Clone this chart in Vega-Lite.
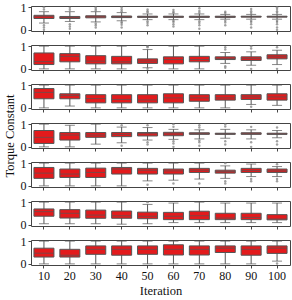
{
"$schema":"https://vega.github.io/schema/vega-lite/v6.json",
"padding":{"left":2,"right":3,"top":0,"bottom":6},
"bounds":"flush",
"background":"white",
"config":{
 "view":{"stroke":"#444","strokeWidth":1},
 "concat":{"spacing":14},
 "axis":{"domain":false,"grid":false,"tickSize":3,"tickColor":"#444","labelPadding":2,"labelFont":"Liberation Serif","labelFontSize":12,"labelColor":"#111","titleFont":"Liberation Serif","titleFontSize":12.5,"titleFontWeight":"normal","titleColor":"#111"}
},
"datasets":{
"bx":[
{"p":1,"it":10,"lo":0.3,"q1":0.5,"md":0.58,"q3":0.64,"hi":0.8},
{"p":1,"it":20,"lo":0.37,"q1":0.5,"md":0.55,"q3":0.59,"hi":0.8},
{"p":1,"it":30,"lo":0.35,"q1":0.53,"md":0.58,"q3":0.62,"hi":0.8},
{"p":1,"it":40,"lo":0.4,"q1":0.54,"md":0.58,"q3":0.61,"hi":0.76},
{"p":1,"it":50,"lo":0.45,"q1":0.55,"md":0.58,"q3":0.6,"hi":0.7},
{"p":1,"it":60,"lo":0.45,"q1":0.55,"md":0.58,"q3":0.6,"hi":0.7},
{"p":1,"it":70,"lo":0.45,"q1":0.55,"md":0.58,"q3":0.6,"hi":0.7},
{"p":1,"it":80,"lo":0.47,"q1":0.55,"md":0.58,"q3":0.6,"hi":0.68},
{"p":1,"it":90,"lo":0.47,"q1":0.56,"md":0.58,"q3":0.6,"hi":0.68},
{"p":1,"it":100,"lo":0.47,"q1":0.56,"md":0.58,"q3":0.6,"hi":0.68},
{"p":2,"it":10,"lo":0,"q1":0.19,"md":0.32,"q3":0.7,"hi":1},
{"p":2,"it":20,"lo":0,"q1":0.31,"md":0.55,"q3":0.67,"hi":1},
{"p":2,"it":30,"lo":0,"q1":0.22,"md":0.34,"q3":0.58,"hi":1},
{"p":2,"it":40,"lo":0,"q1":0.22,"md":0.31,"q3":0.55,"hi":1},
{"p":2,"it":50,"lo":0.05,"q1":0.24,"md":0.34,"q3":0.44,"hi":0.85},
{"p":2,"it":60,"lo":0,"q1":0.22,"md":0.41,"q3":0.53,"hi":1},
{"p":2,"it":70,"lo":0,"q1":0.31,"md":0.41,"q3":0.55,"hi":1},
{"p":2,"it":80,"lo":0.24,"q1":0.41,"md":0.45,"q3":0.53,"hi":0.72},
{"p":2,"it":90,"lo":0.16,"q1":0.37,"md":0.45,"q3":0.53,"hi":0.75},
{"p":2,"it":100,"lo":0.19,"q1":0.44,"md":0.53,"q3":0.62,"hi":0.82},
{"p":3,"it":10,"lo":0,"q1":0.4,"md":0.68,"q3":0.85,"hi":1},
{"p":3,"it":20,"lo":0.08,"q1":0.4,"md":0.54,"q3":0.62,"hi":1},
{"p":3,"it":30,"lo":0,"q1":0.22,"md":0.41,"q3":0.58,"hi":1},
{"p":3,"it":40,"lo":0,"q1":0.22,"md":0.37,"q3":0.58,"hi":1},
{"p":3,"it":50,"lo":0,"q1":0.22,"md":0.35,"q3":0.58,"hi":1},
{"p":3,"it":60,"lo":0,"q1":0.22,"md":0.44,"q3":0.62,"hi":1},
{"p":3,"it":70,"lo":0,"q1":0.29,"md":0.44,"q3":0.58,"hi":1},
{"p":3,"it":80,"lo":0,"q1":0.34,"md":0.44,"q3":0.58,"hi":1},
{"p":3,"it":90,"lo":0.15,"q1":0.37,"md":0.48,"q3":0.58,"hi":1},
{"p":3,"it":100,"lo":0.11,"q1":0.34,"md":0.48,"q3":0.62,"hi":1},
{"p":4,"it":10,"lo":0,"q1":0.15,"md":0.42,"q3":0.72,"hi":1},
{"p":4,"it":20,"lo":0,"q1":0.3,"md":0.52,"q3":0.63,"hi":0.95},
{"p":4,"it":30,"lo":0.12,"q1":0.42,"md":0.52,"q3":0.63,"hi":1},
{"p":4,"it":40,"lo":0.18,"q1":0.45,"md":0.55,"q3":0.63,"hi":0.87},
{"p":4,"it":50,"lo":0.3,"q1":0.48,"md":0.58,"q3":0.63,"hi":0.85},
{"p":4,"it":60,"lo":0.33,"q1":0.49,"md":0.57,"q3":0.64,"hi":0.77},
{"p":4,"it":70,"lo":0.35,"q1":0.55,"md":0.59,"q3":0.62,"hi":0.75},
{"p":4,"it":80,"lo":0.38,"q1":0.55,"md":0.58,"q3":0.6,"hi":0.77},
{"p":4,"it":90,"lo":0.35,"q1":0.55,"md":0.59,"q3":0.62,"hi":0.75},
{"p":4,"it":100,"lo":0.4,"q1":0.55,"md":0.57,"q3":0.6,"hi":0.72},
{"p":5,"it":10,"lo":0,"q1":0.33,"md":0.56,"q3":0.81,"hi":1},
{"p":5,"it":20,"lo":0,"q1":0.37,"md":0.52,"q3":0.74,"hi":1},
{"p":5,"it":30,"lo":0,"q1":0.37,"md":0.59,"q3":0.78,"hi":1},
{"p":5,"it":40,"lo":0,"q1":0.52,"md":0.74,"q3":0.81,"hi":1},
{"p":5,"it":50,"lo":0.22,"q1":0.52,"md":0.69,"q3":0.77,"hi":1},
{"p":5,"it":60,"lo":0.25,"q1":0.52,"md":0.66,"q3":0.74,"hi":1},
{"p":5,"it":70,"lo":0.3,"q1":0.59,"md":0.69,"q3":0.77,"hi":1},
{"p":5,"it":80,"lo":0.33,"q1":0.56,"md":0.63,"q3":0.69,"hi":0.88},
{"p":5,"it":90,"lo":0.41,"q1":0.59,"md":0.68,"q3":0.77,"hi":0.96},
{"p":5,"it":100,"lo":0.41,"q1":0.59,"md":0.66,"q3":0.74,"hi":0.85},
{"p":6,"it":10,"lo":0.05,"q1":0.38,"md":0.58,"q3":0.7,"hi":1},
{"p":6,"it":20,"lo":0.05,"q1":0.3,"md":0.51,"q3":0.67,"hi":1},
{"p":6,"it":30,"lo":0.05,"q1":0.29,"md":0.43,"q3":0.65,"hi":1},
{"p":6,"it":40,"lo":0.03,"q1":0.29,"md":0.4,"q3":0.61,"hi":1},
{"p":6,"it":50,"lo":0.05,"q1":0.27,"md":0.38,"q3":0.56,"hi":0.9},
{"p":6,"it":60,"lo":0.1,"q1":0.23,"md":0.38,"q3":0.55,"hi":0.96},
{"p":6,"it":70,"lo":0.1,"q1":0.23,"md":0.4,"q3":0.6,"hi":1},
{"p":6,"it":80,"lo":0.1,"q1":0.23,"md":0.3,"q3":0.51,"hi":0.96},
{"p":6,"it":90,"lo":0.1,"q1":0.23,"md":0.33,"q3":0.51,"hi":0.96},
{"p":6,"it":100,"lo":0.1,"q1":0.22,"md":0.26,"q3":0.45,"hi":0.96},
{"p":7,"it":10,"lo":0,"q1":0.3,"md":0.47,"q3":0.69,"hi":1},
{"p":7,"it":20,"lo":0,"q1":0.3,"md":0.38,"q3":0.64,"hi":1},
{"p":7,"it":30,"lo":0,"q1":0.42,"md":0.64,"q3":0.79,"hi":1},
{"p":7,"it":40,"lo":0,"q1":0.38,"md":0.64,"q3":0.79,"hi":1},
{"p":7,"it":50,"lo":0,"q1":0.42,"md":0.64,"q3":0.79,"hi":1},
{"p":7,"it":60,"lo":0,"q1":0.39,"md":0.64,"q3":0.84,"hi":1},
{"p":7,"it":70,"lo":0,"q1":0.39,"md":0.64,"q3":0.79,"hi":1},
{"p":7,"it":80,"lo":0,"q1":0.5,"md":0.69,"q3":0.79,"hi":1},
{"p":7,"it":90,"lo":0,"q1":0.38,"md":0.64,"q3":0.79,"hi":1},
{"p":7,"it":100,"lo":0.12,"q1":0.46,"md":0.69,"q3":0.79,"hi":1}
],
"fl":[
{"p":1,"it":10,"v":0},{"p":1,"it":10,"v":0.1},{"p":1,"it":10,"v":0.2},{"p":1,"it":10,"v":0.9},{"p":1,"it":10,"v":1},
{"p":1,"it":20,"v":0.05},{"p":1,"it":20,"v":0.15},{"p":1,"it":20,"v":0.25},{"p":1,"it":20,"v":0.88},{"p":1,"it":20,"v":0.97},
{"p":1,"it":30,"v":0.1},{"p":1,"it":30,"v":0.2},{"p":1,"it":30,"v":0.28},{"p":1,"it":30,"v":0.85},{"p":1,"it":30,"v":0.92},{"p":1,"it":30,"v":1},
{"p":1,"it":40,"v":0.1},{"p":1,"it":40,"v":0.22},{"p":1,"it":40,"v":0.3},{"p":1,"it":40,"v":0.35},{"p":1,"it":40,"v":0.82},{"p":1,"it":40,"v":0.9},{"p":1,"it":40,"v":0.98},
{"p":1,"it":50,"v":0.2},{"p":1,"it":50,"v":0.3},{"p":1,"it":50,"v":0.38},{"p":1,"it":50,"v":0.76},{"p":1,"it":50,"v":0.82},{"p":1,"it":50,"v":0.9},
{"p":1,"it":60,"v":0.15},{"p":1,"it":60,"v":0.25},{"p":1,"it":60,"v":0.35},{"p":1,"it":60,"v":0.4},{"p":1,"it":60,"v":0.75},{"p":1,"it":60,"v":0.8},{"p":1,"it":60,"v":0.88},
{"p":1,"it":70,"v":0.05},{"p":1,"it":70,"v":0.2},{"p":1,"it":70,"v":0.3},{"p":1,"it":70,"v":0.38},{"p":1,"it":70,"v":0.75},{"p":1,"it":70,"v":0.83},{"p":1,"it":70,"v":0.95},
{"p":1,"it":80,"v":0.2},{"p":1,"it":80,"v":0.32},{"p":1,"it":80,"v":0.4},{"p":1,"it":80,"v":0.74},{"p":1,"it":80,"v":0.8},
{"p":1,"it":90,"v":0.1},{"p":1,"it":90,"v":0.25},{"p":1,"it":90,"v":0.35},{"p":1,"it":90,"v":0.4},{"p":1,"it":90,"v":0.74},{"p":1,"it":90,"v":0.82},{"p":1,"it":90,"v":0.92},
{"p":1,"it":100,"v":0},{"p":1,"it":100,"v":0.1},{"p":1,"it":100,"v":0.25},{"p":1,"it":100,"v":0.35},{"p":1,"it":100,"v":0.4},{"p":1,"it":100,"v":0.75},{"p":1,"it":100,"v":0.82},{"p":1,"it":100,"v":0.92},{"p":1,"it":100,"v":1},
{"p":2,"it":50,"v":0.95},{"p":2,"it":50,"v":1},{"p":2,"it":50,"v":0},
{"p":2,"it":80,"v":0.85},{"p":2,"it":80,"v":0.95},{"p":2,"it":80,"v":0.05},{"p":2,"it":80,"v":0.12},
{"p":2,"it":90,"v":0},{"p":2,"it":90,"v":0.9},{"p":2,"it":90,"v":1},
{"p":2,"it":100,"v":0},{"p":2,"it":100,"v":0.95},
{"p":3,"it":90,"v":0.05},
{"p":4,"it":40,"v":0.05},{"p":4,"it":40,"v":0.95},
{"p":4,"it":50,"v":0.1},{"p":4,"it":50,"v":0.2},{"p":4,"it":50,"v":0.95},
{"p":4,"it":60,"v":0},{"p":4,"it":60,"v":0.15},{"p":4,"it":60,"v":0.25},{"p":4,"it":60,"v":0.88},{"p":4,"it":60,"v":1},
{"p":4,"it":70,"v":0.05},{"p":4,"it":70,"v":0.2},{"p":4,"it":70,"v":0.28},{"p":4,"it":70,"v":0.85},{"p":4,"it":70,"v":0.95},
{"p":4,"it":80,"v":0.1},{"p":4,"it":80,"v":0.25},{"p":4,"it":80,"v":0.9},{"p":4,"it":80,"v":1},
{"p":4,"it":90,"v":0},{"p":4,"it":90,"v":0.2},{"p":4,"it":90,"v":0.88},
{"p":4,"it":100,"v":0.1},{"p":4,"it":100,"v":0.25},{"p":4,"it":100,"v":0.85},
{"p":5,"it":50,"v":0.05},{"p":5,"it":60,"v":0.1},{"p":5,"it":70,"v":0.1},
{"p":5,"it":80,"v":0.1},{"p":5,"it":80,"v":0.2},{"p":5,"it":80,"v":1},
{"p":5,"it":90,"v":0.2},{"p":5,"it":90,"v":0.3},
{"p":5,"it":100,"v":0.2},{"p":5,"it":100,"v":0.3},{"p":5,"it":100,"v":0.95},
{"p":6,"it":50,"v":1},
{"p":7,"it":100,"v":0.02}
]
},
"vconcat":[
{"width":259,"height":25,"transform":[{"filter":"datum.p==1"}],"data":{"name":"bx"},
 "encoding":{"x":{"field":"it","type":"ordinal","scale":{"paddingInner":0,"paddingOuter":0},"axis":{"labels":false,"title":null}}},
 "layer":[
  {"mark":{"type":"rule","color":"#555","strokeWidth":1},"encoding":{"y":{"field":"lo","type":"quantitative","scale":{"domain":[-0.05,1.05],"nice":false,"zero":false},"axis":{"values":[0,1],"title":null}},"y2":{"field":"hi"}}},
  {"mark":{"type":"tick","color":"#555","size":10,"thickness":1},"encoding":{"y":{"field":"lo","type":"quantitative"}}},
  {"mark":{"type":"tick","color":"#555","size":10,"thickness":1},"encoding":{"y":{"field":"hi","type":"quantitative"}}},
  {"mark":{"type":"bar","color":"#e31a1c","stroke":"#555","strokeWidth":1,"width":20},"encoding":{"y":{"field":"q1","type":"quantitative"},"y2":{"field":"q3"}}},
  {"mark":{"type":"tick","color":"#555","size":20,"thickness":1},"encoding":{"y":{"field":"md","type":"quantitative"}}},
  {"data":{"name":"fl"},"transform":[{"filter":"datum.p==1"}],"mark":{"type":"circle","color":"#777","size":6,"opacity":0.7},"encoding":{"y":{"field":"v","type":"quantitative"}}}
 ]},
{"width":259,"height":25,"transform":[{"filter":"datum.p==2"}],"data":{"name":"bx"},
 "encoding":{"x":{"field":"it","type":"ordinal","scale":{"paddingInner":0,"paddingOuter":0},"axis":{"labels":false,"title":null}}},
 "layer":[
  {"mark":{"type":"rule","color":"#555","strokeWidth":1},"encoding":{"y":{"field":"lo","type":"quantitative","scale":{"domain":[-0.05,1.05],"nice":false,"zero":false},"axis":{"values":[0,1],"title":null}},"y2":{"field":"hi"}}},
  {"mark":{"type":"tick","color":"#555","size":10,"thickness":1},"encoding":{"y":{"field":"lo","type":"quantitative"}}},
  {"mark":{"type":"tick","color":"#555","size":10,"thickness":1},"encoding":{"y":{"field":"hi","type":"quantitative"}}},
  {"mark":{"type":"bar","color":"#e31a1c","stroke":"#555","strokeWidth":1,"width":20},"encoding":{"y":{"field":"q1","type":"quantitative"},"y2":{"field":"q3"}}},
  {"mark":{"type":"tick","color":"#555","size":20,"thickness":1},"encoding":{"y":{"field":"md","type":"quantitative"}}},
  {"data":{"name":"fl"},"transform":[{"filter":"datum.p==2"}],"mark":{"type":"circle","color":"#777","size":6,"opacity":0.7},"encoding":{"y":{"field":"v","type":"quantitative"}}}
 ]},
{"width":259,"height":25,"transform":[{"filter":"datum.p==3"}],"data":{"name":"bx"},
 "encoding":{"x":{"field":"it","type":"ordinal","scale":{"paddingInner":0,"paddingOuter":0},"axis":{"labels":false,"title":null}}},
 "layer":[
  {"mark":{"type":"rule","color":"#555","strokeWidth":1},"encoding":{"y":{"field":"lo","type":"quantitative","scale":{"domain":[-0.05,1.05],"nice":false,"zero":false},"axis":{"values":[0,1],"title":null}},"y2":{"field":"hi"}}},
  {"mark":{"type":"tick","color":"#555","size":10,"thickness":1},"encoding":{"y":{"field":"lo","type":"quantitative"}}},
  {"mark":{"type":"tick","color":"#555","size":10,"thickness":1},"encoding":{"y":{"field":"hi","type":"quantitative"}}},
  {"mark":{"type":"bar","color":"#e31a1c","stroke":"#555","strokeWidth":1,"width":20},"encoding":{"y":{"field":"q1","type":"quantitative"},"y2":{"field":"q3"}}},
  {"mark":{"type":"tick","color":"#555","size":20,"thickness":1},"encoding":{"y":{"field":"md","type":"quantitative"}}},
  {"data":{"name":"fl"},"transform":[{"filter":"datum.p==3"}],"mark":{"type":"circle","color":"#777","size":6,"opacity":0.7},"encoding":{"y":{"field":"v","type":"quantitative"}}}
 ]},
{"width":259,"height":25,"transform":[{"filter":"datum.p==4"}],"data":{"name":"bx"},
 "encoding":{"x":{"field":"it","type":"ordinal","scale":{"paddingInner":0,"paddingOuter":0},"axis":{"labels":false,"title":null}}},
 "layer":[
  {"mark":{"type":"rule","color":"#555","strokeWidth":1},"encoding":{"y":{"field":"lo","type":"quantitative","scale":{"domain":[-0.05,1.05],"nice":false,"zero":false},"axis":{"values":[0,1],"title":"Torque Constant","titlePadding":4}},"y2":{"field":"hi"}}},
  {"mark":{"type":"tick","color":"#555","size":10,"thickness":1},"encoding":{"y":{"field":"lo","type":"quantitative"}}},
  {"mark":{"type":"tick","color":"#555","size":10,"thickness":1},"encoding":{"y":{"field":"hi","type":"quantitative"}}},
  {"mark":{"type":"bar","color":"#e31a1c","stroke":"#555","strokeWidth":1,"width":20},"encoding":{"y":{"field":"q1","type":"quantitative"},"y2":{"field":"q3"}}},
  {"mark":{"type":"tick","color":"#555","size":20,"thickness":1},"encoding":{"y":{"field":"md","type":"quantitative"}}},
  {"data":{"name":"fl"},"transform":[{"filter":"datum.p==4"}],"mark":{"type":"circle","color":"#777","size":6,"opacity":0.7},"encoding":{"y":{"field":"v","type":"quantitative"}}}
 ]},
{"width":259,"height":25,"transform":[{"filter":"datum.p==5"}],"data":{"name":"bx"},
 "encoding":{"x":{"field":"it","type":"ordinal","scale":{"paddingInner":0,"paddingOuter":0},"axis":{"labels":false,"title":null}}},
 "layer":[
  {"mark":{"type":"rule","color":"#555","strokeWidth":1},"encoding":{"y":{"field":"lo","type":"quantitative","scale":{"domain":[-0.05,1.05],"nice":false,"zero":false},"axis":{"values":[0,1],"title":null}},"y2":{"field":"hi"}}},
  {"mark":{"type":"tick","color":"#555","size":10,"thickness":1},"encoding":{"y":{"field":"lo","type":"quantitative"}}},
  {"mark":{"type":"tick","color":"#555","size":10,"thickness":1},"encoding":{"y":{"field":"hi","type":"quantitative"}}},
  {"mark":{"type":"bar","color":"#e31a1c","stroke":"#555","strokeWidth":1,"width":20},"encoding":{"y":{"field":"q1","type":"quantitative"},"y2":{"field":"q3"}}},
  {"mark":{"type":"tick","color":"#555","size":20,"thickness":1},"encoding":{"y":{"field":"md","type":"quantitative"}}},
  {"data":{"name":"fl"},"transform":[{"filter":"datum.p==5"}],"mark":{"type":"circle","color":"#777","size":6,"opacity":0.7},"encoding":{"y":{"field":"v","type":"quantitative"}}}
 ]},
{"width":259,"height":25,"transform":[{"filter":"datum.p==6"}],"data":{"name":"bx"},
 "encoding":{"x":{"field":"it","type":"ordinal","scale":{"paddingInner":0,"paddingOuter":0},"axis":{"labels":false,"title":null}}},
 "layer":[
  {"mark":{"type":"rule","color":"#555","strokeWidth":1},"encoding":{"y":{"field":"lo","type":"quantitative","scale":{"domain":[-0.05,1.05],"nice":false,"zero":false},"axis":{"values":[0,1],"title":null}},"y2":{"field":"hi"}}},
  {"mark":{"type":"tick","color":"#555","size":10,"thickness":1},"encoding":{"y":{"field":"lo","type":"quantitative"}}},
  {"mark":{"type":"tick","color":"#555","size":10,"thickness":1},"encoding":{"y":{"field":"hi","type":"quantitative"}}},
  {"mark":{"type":"bar","color":"#e31a1c","stroke":"#555","strokeWidth":1,"width":20},"encoding":{"y":{"field":"q1","type":"quantitative"},"y2":{"field":"q3"}}},
  {"mark":{"type":"tick","color":"#555","size":20,"thickness":1},"encoding":{"y":{"field":"md","type":"quantitative"}}},
  {"data":{"name":"fl"},"transform":[{"filter":"datum.p==6"}],"mark":{"type":"circle","color":"#777","size":6,"opacity":0.7},"encoding":{"y":{"field":"v","type":"quantitative"}}}
 ]},
{"width":259,"height":25,"transform":[{"filter":"datum.p==7"}],"data":{"name":"bx"},
 "encoding":{"x":{"field":"it","type":"ordinal","scale":{"paddingInner":0,"paddingOuter":0},"axis":{"labels":true,"labelAngle":0,"title":"Iteration","titlePadding":3}}},
 "layer":[
  {"mark":{"type":"rule","color":"#555","strokeWidth":1},"encoding":{"y":{"field":"lo","type":"quantitative","scale":{"domain":[-0.05,1.05],"nice":false,"zero":false},"axis":{"values":[0,1],"title":null}},"y2":{"field":"hi"}}},
  {"mark":{"type":"tick","color":"#555","size":10,"thickness":1},"encoding":{"y":{"field":"lo","type":"quantitative"}}},
  {"mark":{"type":"tick","color":"#555","size":10,"thickness":1},"encoding":{"y":{"field":"hi","type":"quantitative"}}},
  {"mark":{"type":"bar","color":"#e31a1c","stroke":"#555","strokeWidth":1,"width":20},"encoding":{"y":{"field":"q1","type":"quantitative"},"y2":{"field":"q3"}}},
  {"mark":{"type":"tick","color":"#555","size":20,"thickness":1},"encoding":{"y":{"field":"md","type":"quantitative"}}},
  {"data":{"name":"fl"},"transform":[{"filter":"datum.p==7"}],"mark":{"type":"circle","color":"#777","size":6,"opacity":0.7},"encoding":{"y":{"field":"v","type":"quantitative"}}}
 ]}
]
}
